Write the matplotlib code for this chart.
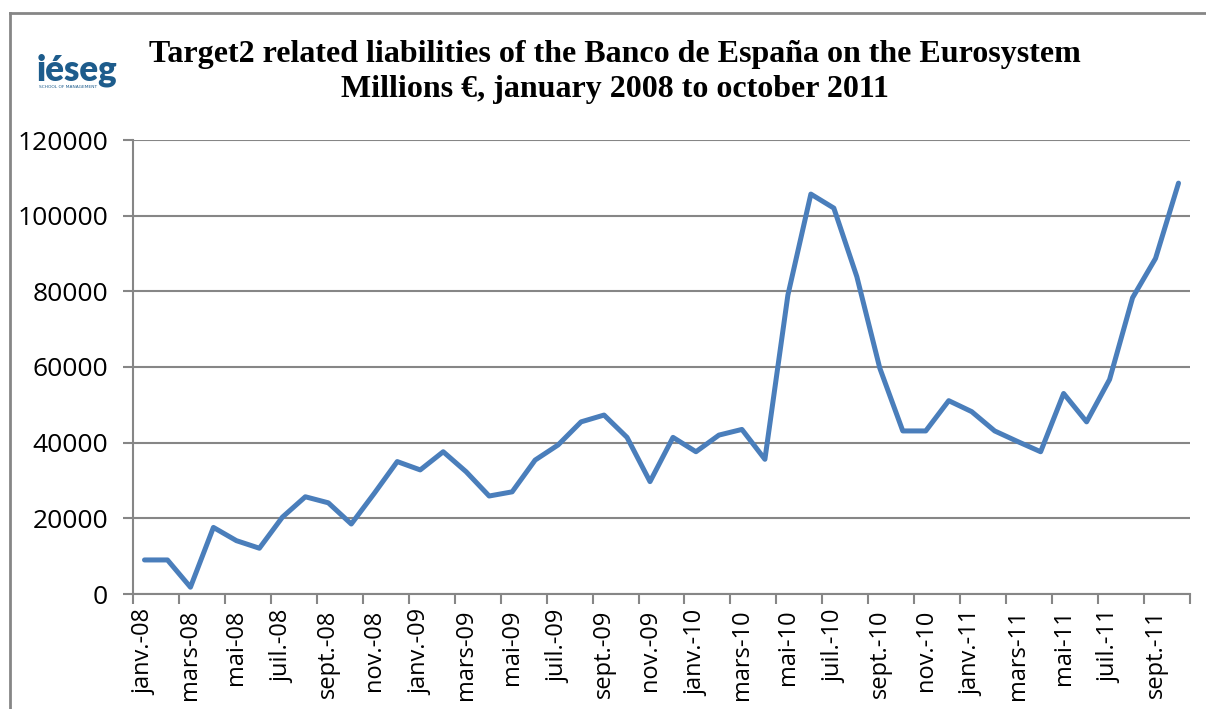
import matplotlib
matplotlib.use('Agg')
import matplotlib.pyplot as plt
from matplotlib.lines import Line2D
from matplotlib.ticker import FixedLocator, NullFormatter, FixedFormatter

# Monthly Target2 liabilities, millions of euros, Jan 2008 .. Oct 2011
month_names = ['janv.', 'févr.', 'mars', 'avr.', 'mai', 'juin',
               'juil.', 'août', 'sept.', 'oct.', 'nov.', 'déc.']
years = ['08', '09', '10', '11']
months = [f'{m}-{y}' for y in years for m in month_names][:46]

liabilities = [
    9000, 9000, 1800, 17600, 14100, 12100, 20300, 25700, 24100, 18500,
    26600, 35000, 32800, 37600, 32300, 25900, 27000, 35400, 39400, 45500,
    47300, 41400, 29700, 41400, 37600, 42000, 43500, 35600, 79000, 105700,
    102000, 83900, 59700, 43100, 43100, 51100, 48200, 43100, 40300, 37600,
    53000, 45500, 56700, 78300, 88700, 108600,
]

title = ('Target2 related liabilities of the Banco de España on the Eurosystem\n'
         'Millions €, january 2008 to october 2011')

grey = '#868686'
blue = '#4a7ebb'

W, H = 1206, 709
fig = plt.figure(figsize=(W / 100, H / 100), dpi=100)
fig.patch.set_facecolor('white')

# chart frame (left and top edges only; the rest runs off the page)
fig.add_artist(Line2D([10 / W, 10 / W], [0, 1 - 13 / H], transform=fig.transFigure,
                      color=grey, lw=2))
fig.add_artist(Line2D([10 / W, 1], [1 - 13 / H, 1 - 13 / H], transform=fig.transFigure,
                      color=grey, lw=2))

ax = fig.add_axes([133 / W, 1 - 594 / H, (1190 - 133) / W, (594 - 140) / H])
x = list(range(len(liabilities)))
ax.plot(x, liabilities, color=blue, lw=3.6, solid_joinstyle='round',
        solid_capstyle='round', zorder=3)

ax.set_xlim(-0.5, len(liabilities) - 0.5)
ax.set_ylim(0, 120000)
ax.set_yticks(range(0, 120001, 20000))
ax.yaxis.grid(True, color=grey, lw=1.5)
ax.set_axisbelow(True)

for side in ['top', 'right']:
    ax.spines[side].set_visible(False)
for side in ['left', 'bottom']:
    ax.spines[side].set_color(grey)
    ax.spines[side].set_linewidth(1.5)

# tick marks between categories, labels on every other category
edges = [i - 0.5 for i in range(0, len(liabilities) + 1, 2)]
ax.xaxis.set_major_locator(FixedLocator(edges))
ax.xaxis.set_major_formatter(NullFormatter())
ax.xaxis.set_minor_locator(FixedLocator(x[::2]))
ax.xaxis.set_minor_formatter(FixedFormatter(months[::2]))
ax.tick_params(axis='x', which='major', length=7, width=1.5, color=grey)
ax.tick_params(axis='x', which='minor', length=0, pad=11, labelrotation=90,
               labelsize=17)
ax.tick_params(axis='y', length=7, width=1.5, color=grey, labelsize=19, pad=11)
for lab in ax.get_xticklabels(minor=True) + ax.get_yticklabels():
    lab.set_fontfamily('Open Sans')

fig.text(615 / W, 1 - 72 / H, title, ha='center', va='center',
         fontsize=23, fontweight='bold', fontfamily='Liberation Serif',
         linespacing=1.28)

# school logo
fig.text(77 / W, 1 - 70 / H, 'iéseg', ha='center', va='center', fontsize=25,
         fontweight='heavy', fontfamily='Lato', color='#1d5c8c')
fig.text(68 / W, 1 - 87 / H, 'SCHOOL OF MANAGEMENT', ha='center', va='center',
         fontsize=3.2, fontfamily='DejaVu Sans', color='#1d5c8c')

fig.savefig('out.png', dpi=100, facecolor='white')
